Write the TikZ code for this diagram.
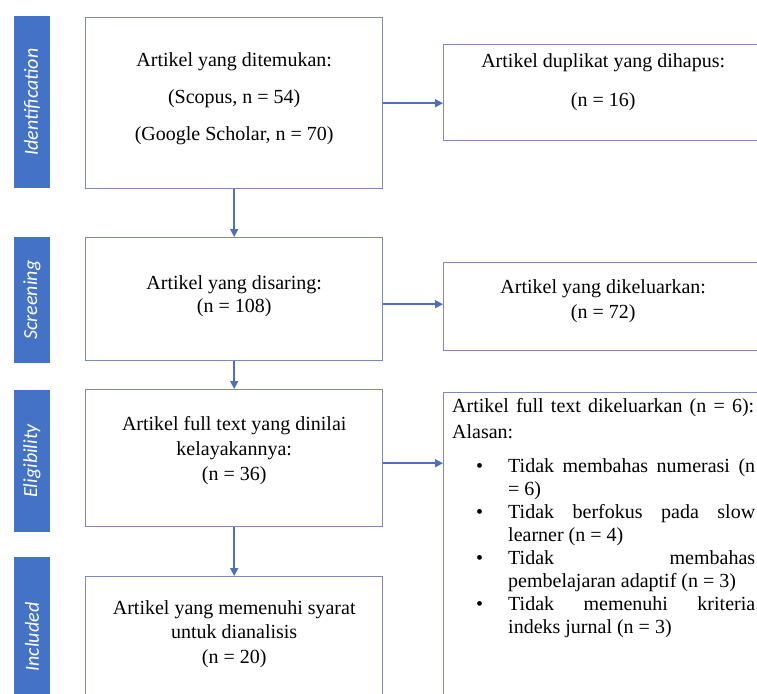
\documentclass[tikz,border=0pt]{standalone}
\usepackage{fontspec}
\setmainfont{Liberation Serif}
\newfontfamily\stagefont{Carlito}
\usetikzlibrary{arrows.meta, positioning}

\definecolor{stageblue}{HTML}{4472C4}
\definecolor{boxline}{HTML}{7F89B8}
\definecolor{arrowblue}{HTML}{4F6FBE}

% extra depth on the last line lifts a box text a little
\newcommand{\lift}[1]{\rule[-#1]{0pt}{0pt}}
% a line spread to a given measure
\newcommand{\fullline}[2][247pt]{\makebox[#1][s]{#2}\newline}

\begin{document}
\begin{tikzpicture}[x=1pt, y=-1pt,
    every node/.style={font=\fontsize{20}{23}\selectfont},
    stage/.style={fill=stageblue, rotate=90, minimum height=36pt, inner sep=0pt,
        text=white, font=\stagefont\itshape\fontsize{20}{24}\selectfont},
    box/.style={draw=boxline, line width=1.4pt, anchor=north west, align=center, inner sep=0pt},
    arrow/.style={-{Triangle[length=8pt, width=8pt]}, draw=arrowblue, line width=1.5pt}]
    \useasboundingbox (0,0) rectangle (757,693);

    % phases
    \node[stage, minimum width=172pt] (identification) at (32,102) {Identification};
    \node[stage, minimum width=126pt] (screening) at (32,300) {Screening};
    \node[stage, minimum width=142pt] (eligibility) at (32,461) {Eligibility};
    \node[stage, minimum width=160pt] (included) at (32,637) {Included};

    % main column
    \node[box, minimum width=297pt, minimum height=171pt] (found) at (85,17)
        {Artikel yang ditemukan:\\[14pt] (Scopus, n = 54)\\[14pt] (Google Scholar, n = 70)\lift{14pt}};
    \node[box, minimum width=297pt, minimum height=123pt] (screened) at (85,237)
        {Artikel yang disaring:\\ (n = 108)\lift{11pt}};
    \node[box, minimum width=297pt, minimum height=137pt] (assessed) at (85,389)
        {Artikel full text yang dinilai\\[2pt] kelayakannya:\\[2pt] (n = 36)\lift{19pt}};
    \node[box, minimum width=297pt, minimum height=120pt] (eligible) at (85,576)
        {Artikel yang memenuhi syarat\\[1pt] untuk dianalisis\\[2pt] (n = 20)\lift{10pt}};

    % right column
    \node[box, minimum width=319pt, minimum height=96pt] (duplicates) at (443,44)
        {Artikel duplikat yang dihapus:\\[16pt] (n = 16)\lift{25pt}};
    \node[box, minimum width=319pt, minimum height=88pt] (removed) at (443,262)
        {Artikel yang dikeluarkan:\\[2pt] (n = 72)\lift{15pt}};
    \node[box, minimum width=319pt, minimum height=320pt] (excluded) at (443,392) {};
    \node[anchor=north west, inner sep=0pt, text width=303pt, align=justify] (reasons) at (452,398.5)
        {\makebox[302pt][s]{Artikel full text dikeluarkan (n = 6):}\par
        \vspace{3pt}Alasan:\par
        \begin{list}{\textbullet}{\setlength\leftmargin{56pt}\setlength\labelwidth{10pt}%
            \setlength\labelsep{25pt}\setlength\itemsep{0pt}\setlength\parsep{0pt}%
            \setlength\topsep{11pt}\setlength\partopsep{0pt}\setlength\rightmargin{0pt}}
        \item \fullline{Tidak membahas numerasi (n} = 6)
        \item \fullline{Tidak berfokus pada slow} learner (n = 4)
        \item \fullline{Tidak membahas} pembelajaran adaptif (n = 3)
        \item \fullline{Tidak memenuhi kriteria} indeks jurnal (n = 3)
        \end{list}};

    % flow
    \draw[arrow] (found) -- (screened);
    \draw[arrow] (screened) -- (assessed);
    \draw[arrow] (assessed) -- (eligible);
    \draw[arrow] (found.east) -- (found.east -| duplicates.west);
    \draw[arrow] ([yshift=-5pt]screened.east) -- ([yshift=-5pt]screened.east -| removed.west);
    \draw[arrow] ([yshift=-5pt]assessed.east) -- ([yshift=-5pt]assessed.east -| excluded.west);
\end{tikzpicture}
\end{document}
